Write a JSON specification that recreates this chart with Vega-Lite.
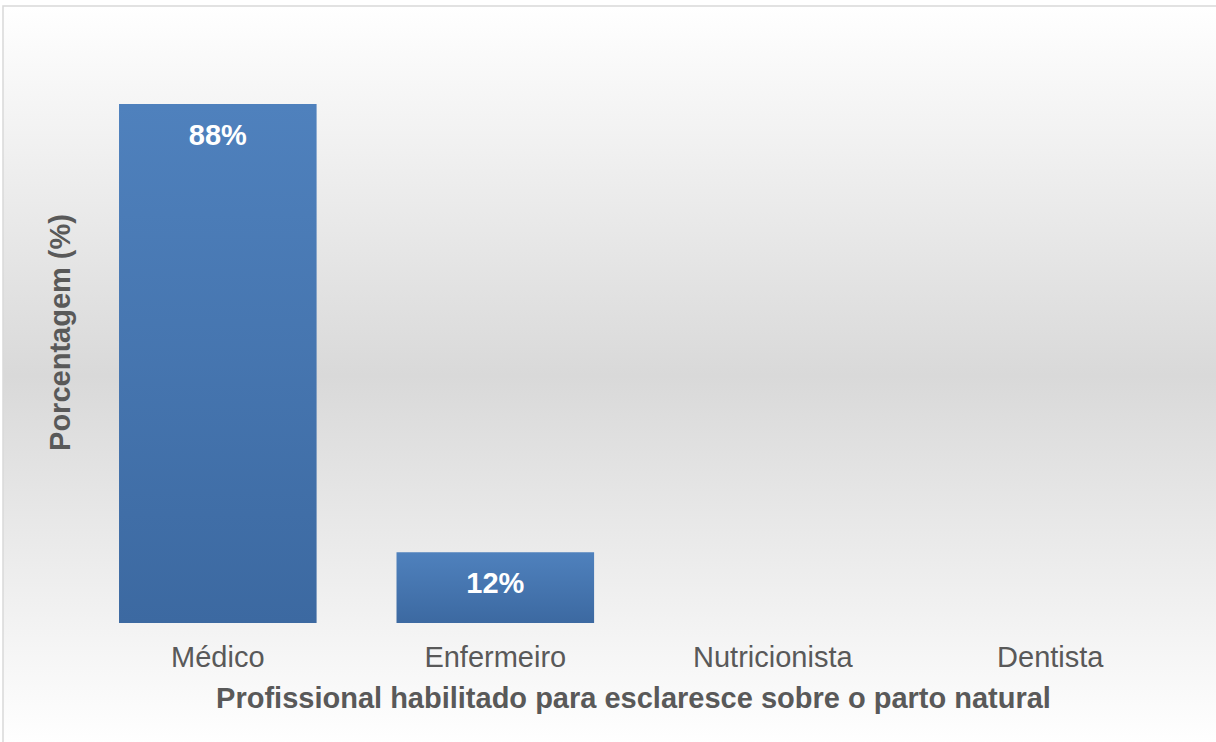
{
  "$schema": "https://vega.github.io/schema/vega-lite/v6.json",
  "width": 1216,
  "height": 740,
  "autosize": {"type": "none"},
  "padding": {"left": 3, "top": 6, "right": 0, "bottom": 0},
  "background": "#ffffff",
  "config": {
    "view": {
      "stroke": "#d9d9d9",
      "strokeWidth": 1.5,
      "fill": {
        "gradient": "linear",
        "x1": 0, "y1": 0, "x2": 0, "y2": 1,
        "stops": [
          {"offset": 0, "color": "#ffffff"},
          {"offset": 0.5, "color": "#d9d9d9"},
          {"offset": 1, "color": "#ffffff"}
        ]
      }
    },
    "font": "Liberation Sans"
  },
  "data": {
    "values": [
      {"profissional": "Médico", "pct": 88, "label": "88%"},
      {"profissional": "Enfermeiro", "pct": 12, "label": "12%"},
      {"profissional": "Nutricionista", "pct": 0, "label": ""},
      {"profissional": "Dentista", "pct": 0, "label": ""}
    ]
  },
  "encoding": {
    "x": {
      "field": "profissional",
      "type": "nominal",
      "sort": null,
      "scale": {"paddingInner": 0.288, "paddingOuter": 0.335, "align": 0.624},
      "axis": {
        "title": "Profissional habilitado para esclaresce sobre o parto natural",
        "titleFont": "Liberation Sans",
        "titleFontSize": 29,
        "titleFontWeight": "bold",
        "titleColor": "#595959",
        "titlePadding": 12,
        "titleX": 630,
        "labelFont": "Liberation Sans",
        "labelFontSize": 29,
        "labelColor": "#595959",
        "labelAngle": 0,
        "labelPadding": 20,
        "ticks": false,
        "tickSize": 0,
        "domain": false,
        "offset": -123
      }
    },
    "y": {
      "field": "pct",
      "type": "quantitative",
      "scale": {"domain": [-20.85, 104.61], "nice": false, "zero": false},
      "axis": {
        "title": "Porcentagem (%)",
        "titleFont": "Liberation Sans",
        "titleFontSize": 29,
        "titleFontWeight": "bold",
        "titleColor": "#595959",
        "titleX": 57,
        "titleY": 326,
        "titleAlign": "center",
        "titleBaseline": "middle",
        "labels": false,
        "ticks": false,
        "domain": false,
        "grid": false
      }
    }
  },
  "layer": [
    {
      "mark": {
        "type": "bar",
        "color": {
          "gradient": "linear",
          "x1": 0, "y1": 0, "x2": 0, "y2": 1,
          "stops": [
            {"offset": 0, "color": "#4f81bd"},
            {"offset": 1, "color": "#3c69a1"}
          ]
        }
      },
      "encoding": {
        "y2": {"datum": 0}
      }
    },
    {
      "transform": [{"filter": "datum.pct > 0"}],
      "mark": {
        "type": "text",
        "baseline": "middle",
        "align": "center",
        "dy": 32,
        "font": "Liberation Sans",
        "fontSize": 29,
        "fontWeight": "bold",
        "color": "#ffffff"
      },
      "encoding": {
        "text": {"field": "label", "type": "nominal"}
      }
    }
  ]
}
